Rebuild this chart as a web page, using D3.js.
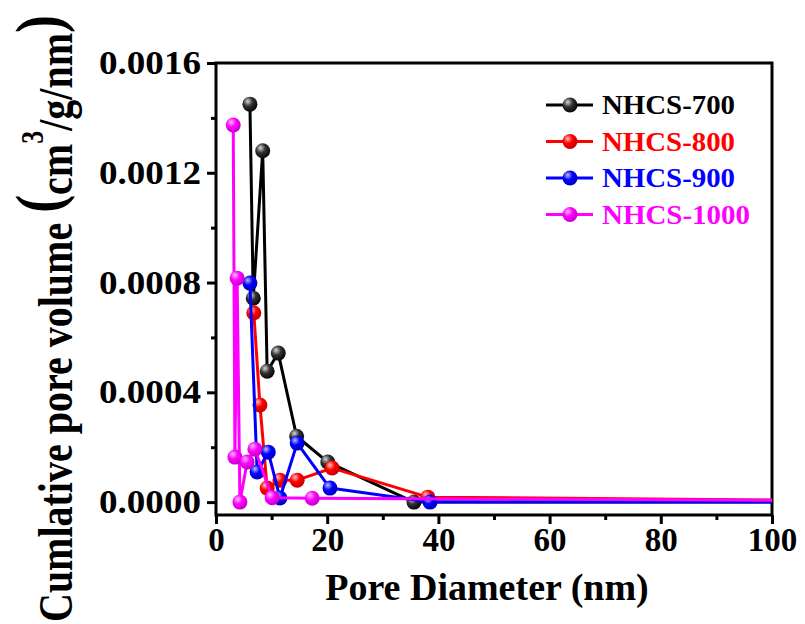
<!DOCTYPE html>
<html>
<head>
<meta charset="utf-8">
<script src="https://cdn.jsdelivr.net/npm/d3@7"></script>
<style>
  body { margin: 0; background: #fff; }
  svg { display: block; }
  text { font-family: "Liberation Serif", "Times New Roman", serif; font-weight: bold; }
</style>
</head>
<body>
<svg id="chart" width="805" height="624"></svg>
<script>
// BJH pore-size distribution of the four NHCS samples
const seriesNames  = ["NHCS-700", "NHCS-800", "NHCS-900", "NHCS-1000"];
const seriesColors = ["#000000", "#ff0000", "#0000ff", "#ff00ff"];

const diam700  = [6.1, 6.7, 8.4, 9.2, 11.2, 14.5, 20.1, 35.6, 130];
const vol700   = [0.00145, 0.000743, 0.00128, 0.000477, 0.000543, 0.00024, 0.000146, 0.0, 0.000001];

const diam800  = [6.8, 7.9, 9.2, 11.5, 14.6, 20.9, 38.1, 130];
const vol800   = [0.000689, 0.000354, 0.000051, 0.00008, 0.00008, 0.000124, 0.000018, 0.000002];

const diam900  = [6.1, 7.4, 9.4, 11.5, 14.6, 20.5, 38.5, 130];
const vol900   = [0.000798, 0.00011, 0.000182, 0.000015, 0.000215, 0.000051, 0.0, 0.0];

const diam1000 = [3.1, 3.4, 3.8, 4.3, 5.6, 7.0, 10.1, 17.3, 130];
const vol1000  = [0.001374, 0.000164, 0.000816, 0.0, 0.000146, 0.000193, 0.000016, 0.000014, 0.000004];

const xMajorTicks = [0, 20, 40, 60, 80, 100];
const xMinorTicks = [10, 30, 50, 70, 90];
const yMajorTicks = [0, 0.0004, 0.0008, 0.0012, 0.0016];
const yMinorTicks = [0.0002, 0.0006, 0.0010, 0.0014];

const diams = [diam700, diam800, diam900, diam1000];
const vols  = [vol700, vol800, vol900, vol1000];
const series = seriesNames.map((name, i) => ({
  name, color: seriesColors[i],
  points: diams[i].map((d, j) => ({ x: d, y: vols[i][j] }))
}));

const svg = d3.select("#chart");
const plotLeft = 216, plotRight = 772, plotTop = 63, plotBottom = 515;

const x = d3.scaleLinear().domain([0, 100]).range([plotLeft, plotRight]);
const y = d3.scaleLinear().domain([-0.000047, 0.0016]).range([plotBottom, plotTop]);

// shaded-sphere gradients for the markers
const defs = svg.append("defs");
series.forEach((s, i) => {
  const g = defs.append("radialGradient").attr("id", "ball" + i)
    .attr("cx", "38%").attr("cy", "35%").attr("r", "70%").attr("fx", "35%").attr("fy", "30%");
  const isBlack = s.color === "#000000";
  const hi = isBlack ? "#d8d8d8" : d3.interpolateRgb(s.color, "#ffffff")(0.75);
  const mid = isBlack ? "#333333" : s.color;
  const edge = isBlack ? "#000000" : d3.interpolateRgb(s.color, "#000000")(0.25);
  g.append("stop").attr("offset", "0%").attr("stop-color", hi);
  g.append("stop").attr("offset", "45%").attr("stop-color", mid);
  g.append("stop").attr("offset", "100%").attr("stop-color", edge);
});
defs.append("clipPath").attr("id", "plotClip")
  .append("rect").attr("x", plotLeft).attr("y", plotTop)
  .attr("width", plotRight - plotLeft).attr("height", plotBottom - plotTop);

// axes
const fmtY = d3.format(".4f");
const xAxis = svg.append("g").attr("transform", `translate(0,${plotBottom})`)
  .call(d3.axisBottom(x).tickValues(xMajorTicks).tickFormat(d3.format("d")).tickSize(9).tickSizeOuter(0).tickPadding(4));
svg.append("g").attr("transform", `translate(0,${plotBottom})`)
  .call(d3.axisBottom(x).tickValues(xMinorTicks).tickFormat("").tickSize(5).tickSizeOuter(0));
const yAxis = svg.append("g").attr("transform", `translate(${plotLeft},0)`)
  .call(d3.axisLeft(y).tickValues(yMajorTicks).tickFormat(fmtY).tickSize(9).tickSizeOuter(0).tickPadding(6));
svg.append("g").attr("transform", `translate(${plotLeft},0)`)
  .call(d3.axisLeft(y).tickValues(yMinorTicks).tickFormat("").tickSize(5).tickSizeOuter(0));

svg.selectAll(".domain").remove();
svg.selectAll(".tick line").attr("stroke", "#000").attr("stroke-width", 3);
xAxis.selectAll(".tick text").attr("font-size", 33).attr("fill", "#000");
yAxis.selectAll(".tick text").attr("font-size", 33).attr("fill", "#000")
  .attr("textLength", 102).attr("lengthAdjust", "spacingAndGlyphs");

// frame
svg.append("rect").attr("x", plotLeft).attr("y", plotTop)
  .attr("width", plotRight - plotLeft).attr("height", plotBottom - plotTop)
  .attr("fill", "none").attr("stroke", "#000").attr("stroke-width", 3);

// series lines and markers
const line = d3.line().x(d => x(d.x)).y(d => y(d.y));
const plot = svg.append("g").attr("clip-path", "url(#plotClip)");
series.forEach((s, i) => {
  const g = plot.append("g");
  g.append("path").datum(s.points).attr("d", line)
    .attr("fill", "none").attr("stroke", s.color).attr("stroke-width", 3).attr("stroke-linejoin", "round");
  g.selectAll("circle").data(s.points).join("circle")
    .attr("cx", d => x(d.x)).attr("cy", d => y(d.y)).attr("r", 7.5)
    .attr("fill", `url(#ball${i})`);
});

// legend
const legend = svg.append("g");
series.forEach((s, i) => {
  const ly = 105 + i * 36.5;
  legend.append("line").attr("x1", 546).attr("x2", 593).attr("y1", ly).attr("y2", ly)
    .attr("stroke", s.color).attr("stroke-width", 3);
  legend.append("circle").attr("cx", 570).attr("cy", ly).attr("r", 7.5).attr("fill", `url(#ball${i})`);
  legend.append("text").attr("x", 602).attr("y", ly + 9).attr("font-size", 27)
    .attr("fill", s.color).text(s.name)
    .attr("textLength", s.name.length === 9 ? 148 : 133).attr("lengthAdjust", "spacingAndGlyphs");
});

// axis titles
svg.append("text").attr("x", 487).attr("y", 600).attr("text-anchor", "middle")
  .attr("font-size", 38).attr("fill", "#000").text("Pore Diameter (nm)");

const yt = svg.append("text").attr("transform", "translate(72,622) rotate(-90) scale(1,1.2)")
  .attr("font-size", 40).attr("fill", "#000");
yt.append("tspan").text("Cumlative pore volume ");
yt.append("tspan").attr("font-size", 54).attr("dy", -9).text("(");
yt.append("tspan").attr("dy", 9).text("cm");
yt.append("tspan").attr("font-size", 26).attr("dy", -24).text("3");
yt.append("tspan").attr("dy", 24).text("/g/nm");
yt.append("tspan").attr("font-size", 54).attr("dy", -9).text(")");
</script>
</body>
</html>
